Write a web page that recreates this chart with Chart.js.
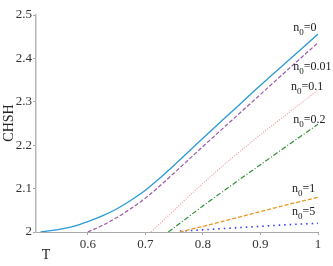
<!DOCTYPE html>
<html>
<head>
<meta charset="utf-8">
<script src="https://cdn.jsdelivr.net/npm/chart.js@4/dist/chart.umd.min.js"></script>
<style>
  html, body { margin: 0; padding: 0; background: #fff; }
  #wrap { width: 333px; height: 266px; position: relative; }
</style>
</head>
<body>
<div id="wrap"><canvas id="grafica"></canvas></div>
<script>
// --- datos ---
const tN0_0 = [0.518, 0.55, 0.575, 0.6, 0.625, 0.65, 0.675, 0.7, 0.725, 0.75, 0.8, 0.85, 0.9, 0.95, 1.0];
const chshN0_0 = [2.0, 2.006, 2.013, 2.024, 2.037, 2.053, 2.073, 2.096, 2.124, 2.154, 2.216, 2.277, 2.338, 2.397, 2.456];

const tN0_001 = [0.6, 0.625, 0.65, 0.675, 0.7, 0.725, 0.75, 0.8, 0.85, 0.9, 0.95, 1.0];
const chshN0_001 = [2.0, 2.015, 2.033, 2.054, 2.078, 2.106, 2.136, 2.197, 2.257, 2.317, 2.377, 2.436];

const tN0_01 = [0.71, 0.75, 0.8, 0.85, 0.9, 0.95, 1.0];
const chshN0_01 = [2.0, 2.05, 2.112, 2.17, 2.224, 2.276, 2.327];

const tN0_02 = [0.74, 0.8, 0.85, 0.9, 0.95, 1.0];
const chshN0_02 = [2.0, 2.06, 2.108, 2.155, 2.202, 2.248];

const tN0_1 = [0.76, 0.8, 0.85, 0.9, 0.95, 1.0];
const chshN0_1 = [2.0, 2.013, 2.03, 2.047, 2.064, 2.08];

const tN0_5 = [0.76, 0.8, 0.85, 0.9, 0.95, 1.0];
const chshN0_5 = [2.002, 2.005, 2.009, 2.013, 2.017, 2.02];

const xTicks = [0.6, 0.7, 0.8, 0.9, 1];
const yTicks = [2, 2.1, 2.2, 2.3, 2.4, 2.5];
const n0Labels = ['0', '0.01', '0.1', '0.2', '1', '5'];

const serif = '"Liberation Serif", "DejaVu Serif", serif';

function pts(ts, vs) { return ts.map((t, i) => ({ x: t, y: vs[i] })); }

function serie(ts, vs, color, dash, width) {
    return {
        data: pts(ts, vs),
        borderColor: color,
        borderWidth: width || 1.2,
        borderDash: dash,
        pointRadius: 0,
        fill: false,
        cubicInterpolationMode: 'monotone'
    };
}

// posiciones (en datos) de las etiquetas n0=...
const labelPos = [
    { t: 0.957, v: 2.462 },
    { t: 0.957, v: 2.374 },
    { t: 0.953, v: 2.327 },
    { t: 0.957, v: 2.251 },
    { t: 0.955, v: 2.092 },
    { t: 0.955, v: 2.039 }
];

const textos = {
    id: 'textos',
    afterDraw(chart) {
        const ctx = chart.ctx;
        const xs = chart.scales.x, ys = chart.scales.y;
        ctx.save();
        ctx.fillStyle = '#222';
        ctx.textBaseline = 'alphabetic';
        ctx.textAlign = 'left';
        n0Labels.forEach((txt, i) => {
            let x = xs.getPixelForValue(labelPos[i].t);
            const y = ys.getPixelForValue(labelPos[i].v);
            ctx.font = '12px ' + serif;
            ctx.fillText('n', x, y);
            x += ctx.measureText('n').width;
            ctx.font = '9px ' + serif;
            ctx.fillText('0', x, y + 4);
            x += ctx.measureText('0').width;
            ctx.font = '12px ' + serif;
            ctx.fillText('=' + txt, x, y);
        });
        // titulos de ejes
        ctx.font = '14px ' + serif;
        ctx.textAlign = 'center';
        ctx.textBaseline = 'middle';
        ctx.fillText('T', 46, 255);
        ctx.translate(9, 123);
        ctx.rotate(-Math.PI / 2);
        ctx.fillText('CHSH', 0, 0);
        ctx.restore();
    }
};

new Chart(document.getElementById('grafica'), {
    type: 'line',
    data: {
        datasets: [
            serie(tN0_0, chshN0_0, '#2a9ad4', [], 1.3),
            serie(tN0_001, chshN0_001, '#9a5aa8', [4, 2]),
            serie(tN0_01, chshN0_01, '#f29a9a', [1, 1.5]),
            serie(tN0_02, chshN0_02, '#2e8f2e', [5, 2, 1, 2]),
            serie(tN0_1, chshN0_1, '#e8961e', [4, 2], 1.3),
            serie(tN0_5, chshN0_5, '#3a3af0', [1.5, 4], 1.6)
        ]
    },
    options: {
        responsive: true,
        maintainAspectRatio: false,
        animation: false,
        layout: { padding: { top: 15, right: 15, left: 0, bottom: 0 } },
        plugins: { legend: { display: false }, tooltip: { enabled: false } },
        scales: {
            x: {
                type: 'linear',
                min: 0.51,
                max: 1,
                afterBuildTicks: s => { s.ticks = xTicks.map(v => ({ value: v })); },
                afterFit: s => { s.height = 34; },
                border: { color: '#a8a8a8', width: 1 },
                grid: { drawOnChartArea: false, tickLength: 3, color: '#a8a8a8' },
                ticks: {
                    color: '#333', padding: 2, maxRotation: 0,
                    font: { family: serif, size: 13 },
                    callback: v => String(v)
                }
            },
            y: {
                min: 2,
                max: 2.5,
                afterBuildTicks: s => { s.ticks = yTicks.map(v => ({ value: v })); },
                afterFit: s => { s.width = 36; },
                border: { color: '#b8b8b8', width: 1.5 },
                grid: { drawOnChartArea: false, tickLength: 3, color: '#a8a8a8' },
                ticks: {
                    color: '#333', padding: 1,
                    font: { family: serif, size: 13 },
                    callback: v => String(v)
                }
            }
        }
    },
    plugins: [textos]
});
</script>
</body>
</html>
